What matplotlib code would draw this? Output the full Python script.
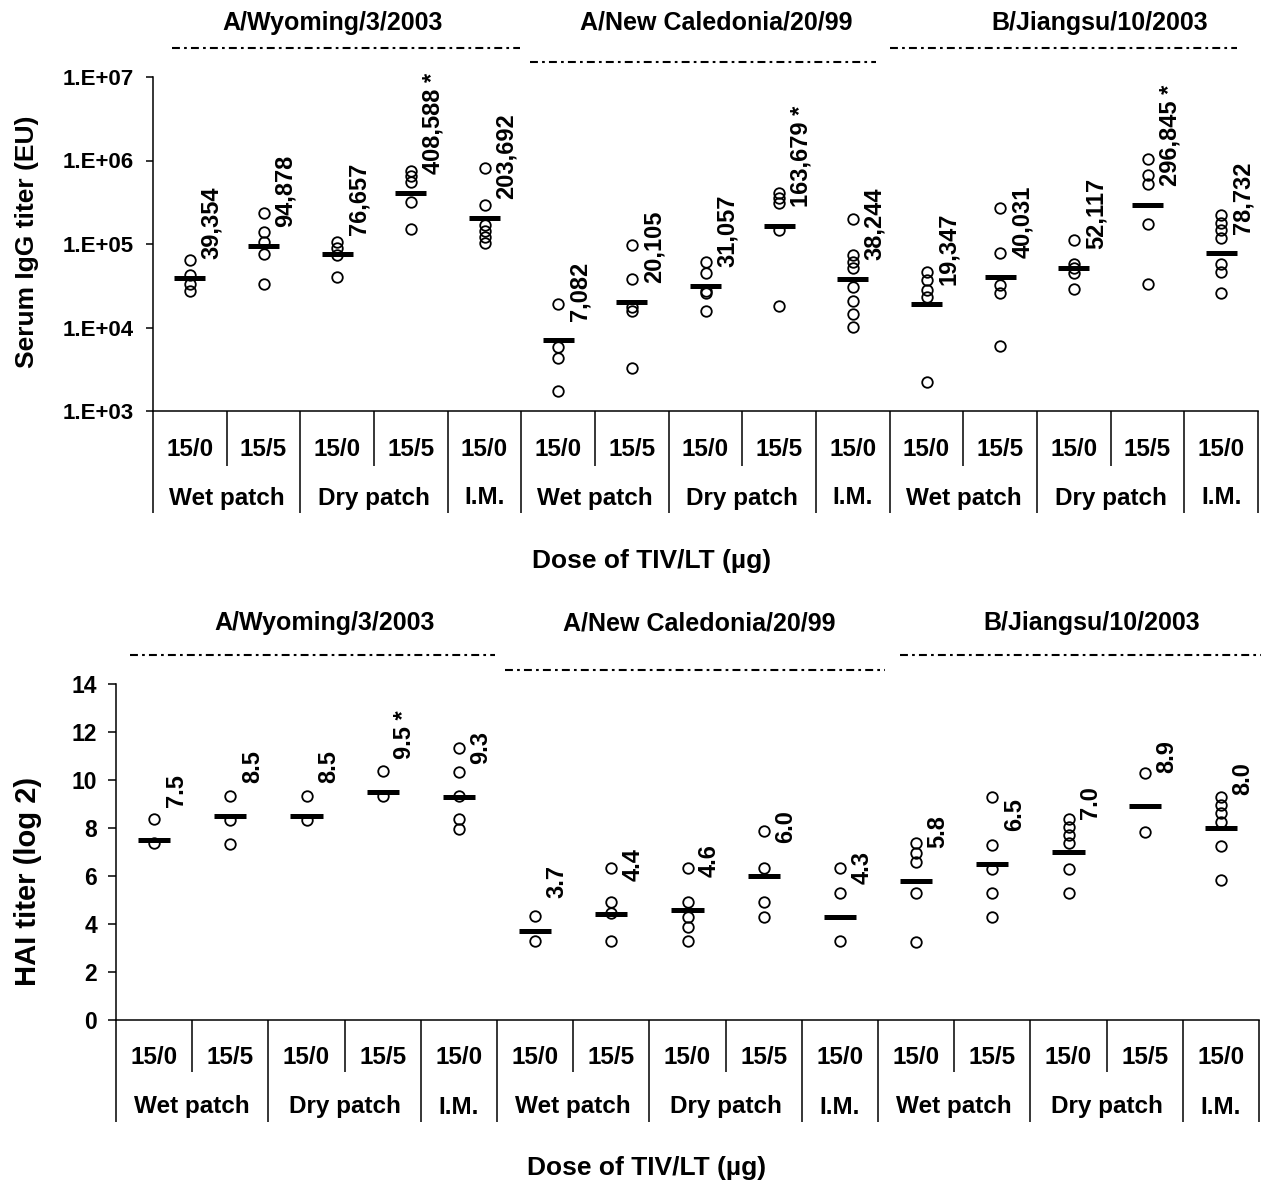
import matplotlib
matplotlib.use('Agg')
import matplotlib.pyplot as plt
from matplotlib.transforms import blended_transform_factory, offset_copy

plt.rcParams['font.family'] = ['Liberation Sans', 'DejaVu Sans']
plt.rcParams['font.weight'] = 'bold'

# ---------------- data ----------------
strains = ['A/Wyoming/3/2003', 'A/New Caledonia/20/99', 'B/Jiangsu/10/2003']
doses = ['15/0', '15/5', '15/0', '15/5', '15/0'] * 3
routes = ['Wet patch', 'Dry patch', 'I.M.'] * 3
route_centers = [0.5, 2.5, 4.0, 5.5, 7.5, 9.0, 10.5, 12.5, 14.0]
igg_ticks = [1e3, 1e4, 1e5, 1e6, 1e7]
igg_ticklabels = ['1.E+03', '1.E+04', '1.E+05', '1.E+06', '1.E+07']
hai_ticks = [0, 2, 4, 6, 8, 10, 12, 14]

igg_points = [
    [65000, 42000, 33500, 27500],
    [233000, 138000, 107000, 75000, 33000],
    [107000, 89000, 74000, 40500],
    [755000, 652000, 557000, 321000, 150000],
    [820000, 293000, 169000, 145000, 122000, 104000],
    [19000, 5800, 4350, 1740],
    [97000, 37800, 17700, 15900, 3300],
    [61000, 44600, 27000, 25700, 15900],
    [412000, 352000, 312000, 147000, 18000],
    [198000, 74000, 61000, 51000, 30800, 21000, 14500, 10200],
    [46500, 37000, 28000, 23000, 2200],
    [267000, 79000, 32000, 25700, 6000],
    [112000, 57600, 51000, 44600, 28700],
    [1030000, 670000, 523000, 174000, 32900],
    [222000, 177000, 147000, 117000, 57600, 46500, 25700],
]
igg_means = [39354, 94878, 76657, 408588, 203692,
             7082, 20105, 31057, 163679, 38244,
             19347, 40031, 52117, 296845, 78732]
igg_sig = [False, False, False, True, False,
           False, False, False, True, False,
           False, False, False, True, False]

hai_points = [
    [8.36, 7.36],
    [9.33, 8.33, 7.33],
    [9.33, 8.33],
    [10.39, 9.33],
    [11.32, 10.35, 9.33, 8.36, 7.94],
    [4.33, 3.31],
    [6.32, 4.93, 4.44, 3.31],
    [6.32, 4.93, 4.31, 3.86, 3.31],
    [7.89, 6.32, 4.93, 4.31],
    [6.32, 5.28, 3.31],
    [7.36, 6.97, 6.60, 5.28, 3.26],
    [9.31, 7.29, 6.28, 5.28, 4.28],
    [8.375, 8.06, 7.71, 7.36, 6.28, 5.28],
    [10.31, 7.85],
    [9.31, 8.96, 8.61, 8.26, 7.25, 5.83],
]
hai_means = [7.5, 8.5, 8.5, 9.5, 9.3,
             3.7, 4.4, 4.6, 6.0, 4.3,
             5.8, 6.5, 7.0, 8.9, 8.0]
hai_sig = [False, False, False, True, False,
           False, False, False, False, False,
           False, False, False, False, False]

# ---------------- layout ----------------
W, H = 1261, 1183
fig = plt.figure(figsize=(W / 100, H / 100), dpi=100)


def fx(px):
    return px / W


def fy(py):
    return 1 - py / H


ax1 = fig.add_axes([fx(153), fy(411), fx(1258) - fx(153), fy(77) - fy(411)])
ax2 = fig.add_axes([fx(116), fy(1020), fx(1259) - fx(116), fy(684) - fy(1020)])

n = len(doses)
major_b = [-0.5, 1.5, 3.5, 4.5, 6.5, 8.5, 9.5, 11.5, 13.5, 14.5]
minor_b = [0.5, 2.5, 5.5, 7.5, 10.5, 12.5]


def style_axes(ax, minor_len_px, major_len_px):
    ax.set_xlim(-0.5, n - 0.5)
    for s in ['top', 'right']:
        ax.spines[s].set_visible(False)
    for s in ['left', 'bottom']:
        ax.spines[s].set_linewidth(1.1)
    ax.set_xticks(major_b)
    ax.set_xticks(minor_b, minor=True)
    ax.tick_params(axis='x', which='major', length=major_len_px * 0.72,
                   width=1.1, labelbottom=False, direction='out')
    ax.tick_params(axis='x', which='minor', length=minor_len_px * 0.72,
                   width=1.1, labelbottom=False, direction='out')
    trans = blended_transform_factory(ax.transData, ax.transAxes)
    t_dose = offset_copy(trans, fig=fig, y=-38, units='dots')
    t_route = offset_copy(trans, fig=fig, y=-87, units='dots')
    for i, d in enumerate(doses):
        ax.text(i, 0, d, transform=t_dose, ha='center', va='center',
                fontsize=17.5, fontweight='bold', clip_on=False)
    for c, r in zip(route_centers, routes):
        ax.text(c, 0, r, transform=t_route, ha='center', va='center',
                fontsize=17.5, fontweight='bold', clip_on=False)
    return trans


dash = (0, (3.8, 2.0, 1.3, 2.0))

# ---------------- top panel: IgG ----------------
ax1.set_yscale('log')
ax1.set_ylim(1e3, 1e7)
ax1.set_yticks(igg_ticks)
ax1.set_yticklabels(igg_ticklabels)
ax1.yaxis.set_minor_locator(matplotlib.ticker.NullLocator())
ax1.tick_params(axis='y', length=5, width=1.1, labelsize=16, pad=9)
tr1 = style_axes(ax1, 55, 102)

for i, (pts, m) in enumerate(zip(igg_points, igg_means)):
    ax1.plot([i] * len(pts), pts, 'o', ms=7.6, mfc='none', mec='black',
             mew=1.3, clip_on=False, zorder=3)
    ax1.hlines(m, i - 0.21, i + 0.21, colors='black', lw=3.6, zorder=4)
    lab = f'{m:,}' + (' *' if igg_sig[i] else '')
    ax1.annotate(lab, xy=(i, m), xytext=(22, 19), textcoords='offset pixels',
                 rotation=90, ha='center', va='bottom', fontsize=17,
                 fontweight='bold')

top_titles_x = [1.94, 7.14, 12.35]
top_lines = [(-0.24, 4.48, 1.087), (4.62, 9.31, 1.045), (9.5, 14.21, 1.087)]
for s, tx, (x0, x1, yl) in zip(strains, top_titles_x, top_lines):
    ax1.text(tx, 1.162, s, transform=tr1, ha='center', va='center',
             fontsize=18, fontweight='bold', clip_on=False)
    ax1.plot([x0, x1], [yl, yl], transform=tr1, color='black', lw=1.5,
             linestyle=dash, clip_on=False)

fig.text(fx(27), fy(242), 'Serum IgG titer (EU)', rotation=90, ha='center',
         va='center', fontsize=19, fontweight='bold')
fig.text(fx(652), fy(561), 'Dose of TIV/LT (µg)', ha='center', va='center',
         fontsize=19, fontweight='bold')

# ---------------- bottom panel: HAI ----------------
ax2.set_ylim(0, 14)
ax2.set_yticks(hai_ticks)
ax2.set_yticklabels([str(t) for t in hai_ticks])
ax2.tick_params(axis='y', length=5.5, width=1.1, labelsize=16.5, pad=8)
tr2 = style_axes(ax2, 52, 102)

for i, (pts, m) in enumerate(zip(hai_points, hai_means)):
    ax2.plot([i] * len(pts), pts, 'o', ms=7.6, mfc='none', mec='black',
             mew=1.3, clip_on=False, zorder=3)
    ax2.hlines(m, i - 0.21, i + 0.21, colors='black', lw=3.6, zorder=4)
    lab = f'{m:.1f}' + (' *' if hai_sig[i] else '')
    ax2.annotate(lab, xy=(i, m), xytext=(22, 33), textcoords='offset pixels',
                 rotation=90, ha='center', va='bottom', fontsize=17,
                 fontweight='bold')

bot_titles_x = [2.24, 7.16, 12.31]
bot_lines = [(-0.32, 4.47, 1.086), (4.6, 9.59, 1.042), (9.79, 14.54, 1.086)]
for s, tx, (x0, x1, yl) in zip(strains, bot_titles_x, bot_lines):
    ax2.text(tx, 1.1815, s, transform=tr2, ha='center', va='center',
             fontsize=18, fontweight='bold', clip_on=False)
    ax2.plot([x0, x1], [yl, yl], transform=tr2, color='black', lw=1.5,
             linestyle=dash, clip_on=False)

fig.text(fx(28), fy(881), 'HAI titer (log 2)', rotation=90, ha='center',
         va='center', fontsize=21, fontweight='bold')
fig.text(fx(647), fy(1168), 'Dose of TIV/LT (µg)', ha='center', va='center',
         fontsize=19, fontweight='bold')

fig.savefig('out.png', dpi=100, facecolor='white')
